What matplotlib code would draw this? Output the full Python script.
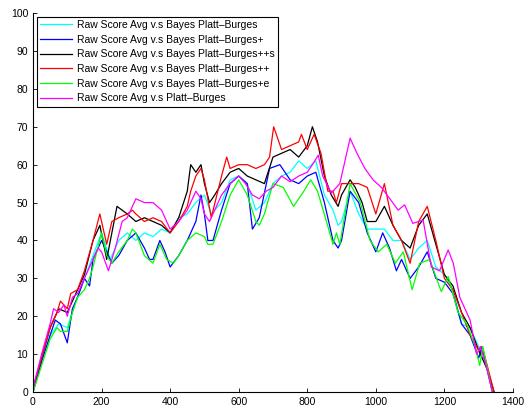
import matplotlib
matplotlib.use("Agg")
import matplotlib.pyplot as plt

plt.rcParams["font.family"] = ["Liberation Sans", "DejaVu Sans"]

labels = [
    "Raw Score Avg v.s Bayes Platt\u2013Burges",
    "Raw Score Avg v.s Bayes Platt\u2013Burges+",
    "Raw Score Avg v.s Bayes Platt\u2013Burges++s",
    "Raw Score Avg v.s Bayes Platt\u2013Burges++",
    "Raw Score Avg v.s Bayes Platt\u2013Burges+e",
    "Raw Score Avg v.s Platt\u2013Burges",
]
colors = ["#00ffff", "#0000ff", "#000000", "#ff0000", "#00ff00", "#ff00ff"]

# cyan: Bayes Platt-Burges
x_cyan = [0, 25, 50, 75, 100, 125, 150, 175, 200, 225, 250, 275, 300, 325, 350, 375, 400,
          425, 450, 475, 500, 520, 550, 575, 600, 625, 650, 675, 700, 725, 750, 775, 800,
          825, 850, 875, 890, 900, 925, 950, 975, 1000, 1025, 1050, 1075, 1100, 1125, 1150,
          1175, 1200, 1225, 1250, 1275, 1300, 1325, 1345]
y_cyan = [0, 8, 15, 18, 17, 24, 30, 36, 42, 35, 40, 42, 40, 42, 41, 43, 42,
          46, 47, 50, 52, 47, 50, 56, 57, 55, 48, 50, 55, 57, 58, 61, 59,
          61, 52, 48, 44, 45, 53, 47, 43, 43, 43, 40, 40, 35, 38, 40,
          33, 31, 27, 18, 17, 12, 6, 0]

# blue: Bayes Platt-Burges+
x_blue = [0, 25, 50, 65, 80, 100, 115, 130, 150, 165, 175, 200, 215, 230, 250, 275, 300,
          325, 340, 350, 370, 385, 400, 425, 450, 475, 490, 500, 510, 525, 550, 575, 600,
          625, 640, 660, 690, 720, 750, 775, 800, 825, 850, 875, 890, 900, 925, 950, 975,
          1000, 1020, 1040, 1060, 1075, 1100, 1125, 1150, 1175, 1200, 1225, 1250, 1275,
          1300, 1310, 1325, 1340]
y_blue = [0, 8, 15, 19, 18, 13, 22, 25, 30, 28, 35, 40, 37, 34, 36, 40, 42,
          38, 35, 35, 40, 37, 33, 36, 40, 45, 52, 47, 40, 40, 48, 55, 57,
          55, 43, 46, 59, 60, 56, 55, 57, 58, 50, 40, 38, 40, 53, 50, 42,
          37, 42, 38, 32, 35, 30, 33, 37, 30, 29, 26, 18, 15,
          9, 12, 6, 0]

# black: Bayes Platt-Burges++s
x_black = [0, 25, 50, 75, 100, 125, 150, 175, 195, 215, 245, 275, 300, 325, 350, 375, 400,
           425, 450, 460, 475, 490, 500, 515, 530, 550, 575, 600, 625, 650, 675, 700, 725,
           750, 775, 800, 815, 830, 850, 870, 890, 900, 925, 940, 960, 975, 1000, 1025,
           1050, 1075, 1100, 1125, 1150, 1175, 1200, 1225, 1250, 1275, 1300, 1325, 1345]
y_black = [1, 9, 17, 22, 21, 26, 31, 40, 44, 35, 49, 47, 45, 46, 45, 44, 42,
           46, 53, 60, 58, 60, 55, 50, 52, 55, 58, 59, 57, 56, 55, 62, 63,
           64, 62, 65, 70, 66, 57, 52, 49, 52, 56, 54, 50, 45, 45, 49,
           44, 40, 38, 44, 47, 39, 31, 28, 21, 17, 11, 6, 0]

# red: Bayes Platt-Burges++
x_red = [0, 25, 50, 70, 80, 100, 110, 130, 150, 175, 195, 215, 230, 250, 275, 290, 300,
         325, 350, 375, 400, 425, 450, 460, 475, 490, 500, 520, 550, 565, 575, 600, 625,
         650, 675, 690, 702, 725, 750, 775, 783, 800, 820, 840, 860, 875, 885, 900, 925,
         950, 975, 1000, 1025, 1050, 1075, 1100, 1125, 1150, 1175, 1200, 1225, 1250,
         1275, 1300, 1310, 1325, 1345]
y_red = [1, 9, 17, 21, 24, 22, 26, 27, 32, 40, 47, 39, 45, 46, 47, 48, 47,
         45, 46, 45, 42, 45, 49, 53, 57, 59, 56, 46, 57, 62, 59, 60, 60,
         59, 60, 62, 70, 64, 65, 66, 68, 64, 68, 63, 53, 53, 50, 55, 55,
         55, 54, 47, 55, 44, 40, 34, 45, 49, 40, 30, 27, 21,
         15, 11, 12, 7, 0]

# green: Bayes Platt-Burges+e
x_green = [0, 25, 50, 70, 80, 100, 115, 130, 150, 165, 175, 200, 215, 230, 250, 275, 290,
           300, 325, 350, 370, 390, 410, 425, 450, 475, 500, 510, 525, 550, 575, 600, 625,
           650, 660, 675, 700, 730, 760, 790, 810, 830, 856, 875, 885, 895, 925, 955, 983,
           1007, 1032, 1057, 1080, 1106, 1128, 1157, 1191, 1211, 1240, 1265, 1290, 1303,
           1312, 1340]
y_green = [0, 7, 14, 17, 16, 16, 21, 25, 27, 30, 33, 42, 36, 34, 37, 40, 43,
           42, 36, 34, 39, 35, 34, 36, 40, 42, 41, 39, 39, 45, 52, 56, 52,
           45, 44, 47, 55, 54, 49, 53, 56, 53, 45, 39, 42, 39, 55, 50, 40,
           37, 39, 34, 37, 27, 34, 35, 26.5, 30.5, 21, 18, 12, 7,
           12, 0]

# magenta: Platt-Burges
x_mag = [0, 25, 50, 60, 75, 90, 100, 115, 130, 150, 175, 190, 200, 220, 240, 260, 275,
         290, 300, 325, 350, 375, 390, 400, 425, 450, 475, 490, 500, 515, 525, 550, 575,
         600, 620, 640, 660, 680, 700, 725, 750, 775, 800, 815, 832, 845, 870, 895, 925,
         945, 968, 992, 1016, 1041, 1065, 1084, 1108, 1138, 1162, 1186, 1211, 1226,
         1245, 1275, 1294, 1305, 1320, 1340]
y_mag = [1, 10, 18, 22, 21, 23, 20, 25, 26, 30, 35, 38, 37, 32, 38, 45, 46,
         49, 51, 50, 50, 48, 45, 43, 45, 48, 53, 51, 47, 45, 47, 52, 55,
         57, 55, 52, 51, 53, 54, 57, 55.5, 57, 58, 60, 62.5, 57, 52.5, 55, 67,
         63, 59, 56, 54, 51, 48, 49.4, 44.5, 45.4, 33, 32, 37.5, 34,
         25, 19, 10, 12, 7.5, 0]

xs = [x_cyan, x_blue, x_black, x_red, x_green, x_mag]
ys = [y_cyan, y_blue, y_black, y_red, y_green, y_mag]

fig = plt.figure(figsize=(5.28, 4.08), dpi=100)
ax = fig.add_axes([0.0625, 0.039, 0.909, 0.929])

for x, y, c, lab in zip(xs, ys, colors, labels):
    ax.plot(x, y, color=c, linewidth=0.9, label=lab)

ax.set_xlim(0, 1400)
ax.set_ylim(0, 100)
ax.set_xticks(range(0, 1401, 200))
ax.set_yticks(range(0, 101, 10))
ax.tick_params(direction="in", labelsize=7.5, length=3, width=0.6)
ax.spines["top"].set_visible(False)
ax.spines["right"].set_visible(False)
for s in ("left", "bottom"):
    ax.spines[s].set_linewidth(0.8)

leg = ax.legend(loc="upper left", bbox_to_anchor=(0.008, 0.99), fontsize=7.5,
                fancybox=False, framealpha=1, edgecolor="black",
                handlelength=3.1, handletextpad=0.45, borderpad=0.3,
                labelspacing=0.45, borderaxespad=0)
leg.get_frame().set_linewidth(0.8)

fig.savefig("out.png", dpi=100)
